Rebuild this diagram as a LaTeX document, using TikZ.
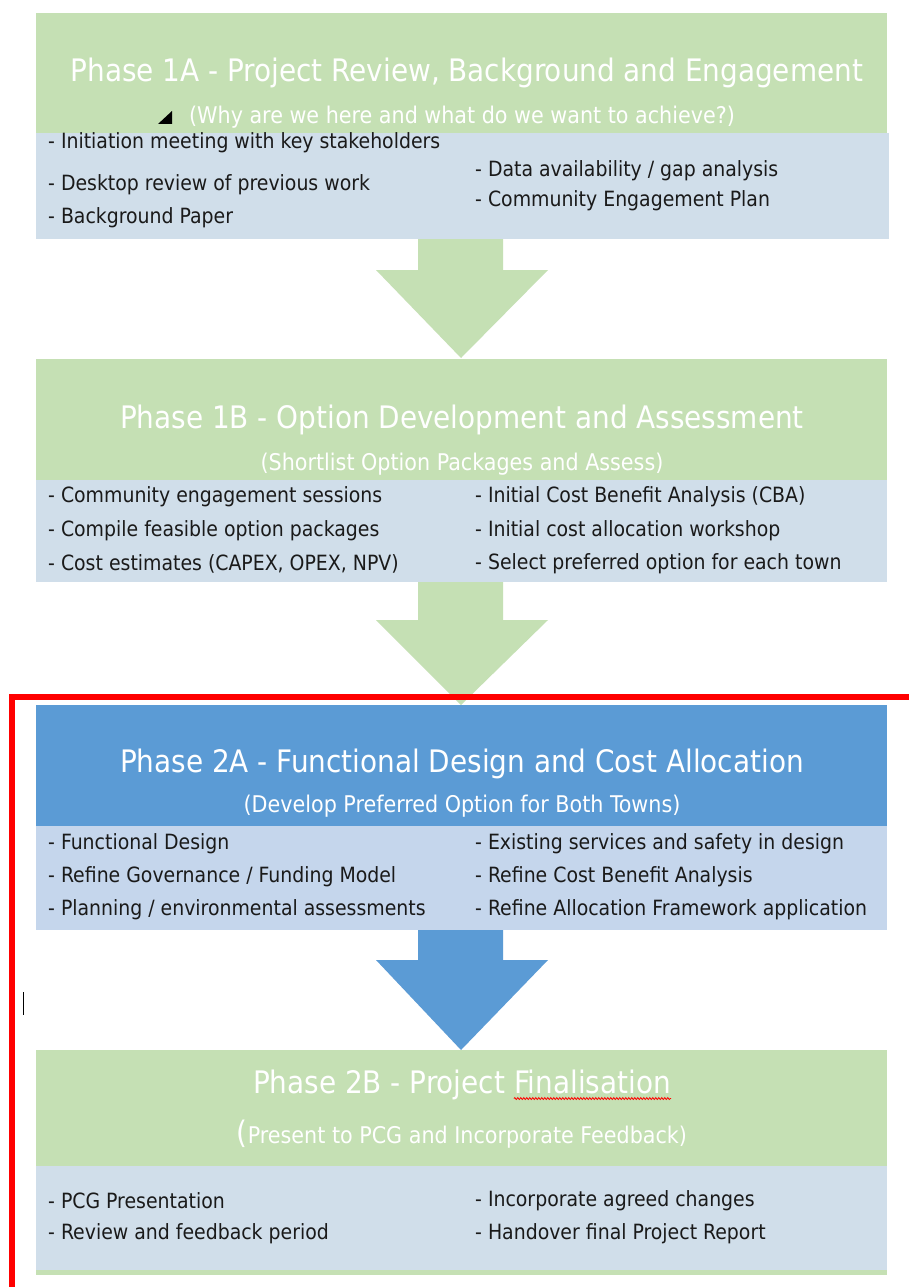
\documentclass[tikz,border=0pt]{standalone}
\usepackage{fontspec}
\setmainfont{DejaVu Sans Condensed}
\usetikzlibrary{decorations.pathmorphing,calc}
\definecolor{pgreen}{HTML}{C5E0B4}
\definecolor{pgray}{HTML}{D0DEEA}
\definecolor{pblue}{HTML}{5B9BD5}
\definecolor{plight}{HTML}{C5D6EC}
\definecolor{ptext}{HTML}{1A1A1A}
\begin{document}
\begin{tikzpicture}[x=1pt,y=-1pt,
  titletext/.style={text=white,font=\fontsize{31}{33}\selectfont,inner sep=0pt},
  subtext/.style={text=white,font=\fontsize{23}{25}\selectfont,inner sep=0pt},
  itemtext/.style={text=ptext,font=\fontsize{21}{23}\selectfont,inner sep=0pt,anchor=west},
  squiggle/.style={red,line width=0.8pt,decorate,decoration={snake,amplitude=1pt,segment length=3pt}}
]
\useasboundingbox (0,0) rectangle (909,1287);
\fill[white] (0,0) rectangle (909,1287);

% Phase 1A
\fill[pgreen] (36,13) rectangle (887,133);
\fill[pgray] (36,133) rectangle (889,239);
\node[titletext] (t1) at (467,73) {Phase 1A - Project Review, Background and Engagement};
\node[subtext] (s1) at (462,117) {(Why are we here and what do we want to achieve?)};
\fill[black] (158,124) -- (172,124) -- (172,111) -- cycle;
\node[itemtext] (i11) at (48,143) {- Initiation meeting with key stakeholders};
\node[itemtext] (i12) at (48,185) {- Desktop review of previous work};
\node[itemtext] (i13) at (48,218) {- Background Paper};
\node[itemtext] (i14) at (475,171) {- Data availability / gap analysis};
\node[itemtext] (i15) at (475,201) {- Community Engagement Plan};

% arrow 1
\coordinate (a1) at (461,358);
\fill[pgreen] (418,239) -- (503,239) -- (503,270) -- (548,270) -- (a1) -- (376,270) -- (418,270) -- cycle;

% Phase 1B
\fill[pgreen] (36,359) rectangle (887,480);
\fill[pgray] (36,480) rectangle (887,582);
\node[titletext] (t2) at (462,420) {Phase 1B - Option Development and Assessment};
\node[subtext] (s2) at (462,464) {(Shortlist Option Packages and Assess)};
\node[itemtext] (i21) at (48,497) {- Community engagement sessions};
\node[itemtext] (i22) at (48,531) {- Compile feasible option packages};
\node[itemtext] (i23) at (48,564) {- Cost estimates (CAPEX, OPEX, NPV)};
\node[itemtext] (i24) at (475,497) {- Initial Cost Benefit Analysis (CBA)};
\node[itemtext] (i25) at (475,531) {- Initial cost allocation workshop};
\node[itemtext] (i26) at (475,564) {- Select preferred option for each town};

% arrow 2
\coordinate (a2) at (461,705);
\fill[pgreen] (418,582) -- (503,582) -- (503,620) -- (548,620) -- (a2) -- (376,620) -- (418,620) -- cycle;

% Phase 2A
\fill[pblue] (36,705) rectangle (887,826);
\fill[plight] (36,826) rectangle (887,930);
\node[titletext] (t3) at (462,764) {Phase 2A - Functional Design and Cost Allocation};
\node[subtext] (s3) at (462,806) {(Develop Preferred Option for Both Towns)};
\node[itemtext] (i31) at (48,844) {- Functional Design};
\node[itemtext] (i32) at (48,877) {- Refine Governance / Funding Model};
\node[itemtext] (i33) at (48,910) {- Planning / environmental assessments};
\node[itemtext] (i34) at (475,844) {- Existing services and safety in design};
\node[itemtext] (i35) at (475,877) {- Refine Cost Benefit Analysis};
\node[itemtext] (i36) at (475,910) {- Refine Allocation Framework application};

% arrow 3
\coordinate (a3) at (461,1050);
\fill[pblue] (418,930) -- (503,930) -- (503,960) -- (548,960) -- (a3) -- (376,960) -- (418,960) -- cycle;

% Phase 2B
\fill[pgreen] (36,1050) rectangle (887,1275);
\fill[pgray] (36,1166) rectangle (887,1270);
\node[titletext] (t4) at (462,1085) {Phase 2B - Project Finalisation};
\node[inner sep=0pt,font=\fontsize{31}{33}\selectfont,anchor=base east] (fw) at (t4.base east) {\phantom{Finalisation}};
\draw[squiggle] ($(fw.base west)+(0,5)$) -- ($(fw.base east)+(0,5)$);
\node[subtext] (s4) at (462,1134) {\fontsize{31}{33}\selectfont(\fontsize{23}{25}\selectfont Present to PCG and Incorporate Feedback)};
\node[itemtext] (i41) at (48,1201) {- PCG Presentation};
\node[itemtext] (i42) at (48,1234) {- Review and feedback period};
\node[itemtext] (i43) at (475,1201) {- Incorporate agreed changes};
\node[itemtext] (i44) at (475,1234) {- Handover final Project Report};

% red frame
\draw[red,line width=6pt] (12,1290) -- (12,697) -- (912,697);
% cursor
\draw[black,line width=1pt] (23,992) -- (23,1015);
\end{tikzpicture}
\end{document}
